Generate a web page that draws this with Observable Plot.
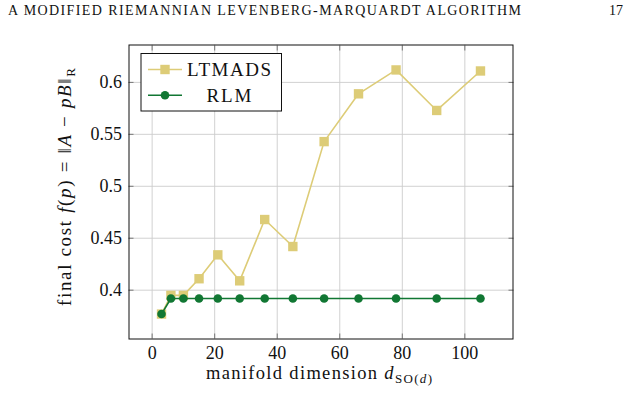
<!DOCTYPE html>
<html>
<head>
<meta charset="utf-8">
<script src="https://cdn.jsdelivr.net/npm/d3@7"></script>
<script src="https://cdn.jsdelivr.net/npm/@observablehq/plot@0.6"></script>
<style>
  body { margin: 0; background: #fff; width: 643px; height: 403px; overflow: hidden; font-family: "Times New Roman", "DejaVu Serif", serif; color: #111; }
  #head { position: relative; height: 25px; }
  #runhead { position: absolute; left: 8px; top: 3px; font-size: 14px; letter-spacing: 1.4px; white-space: nowrap; }
  #pageno { position: absolute; right: 20px; top: 3px; font-size: 14px; }
  #chart svg { display: block; }
  #chart svg text { font-family: "Times New Roman", "DejaVu Serif", serif; }
</style>
</head>
<body>
<div id="head"><span id="runhead">A MODIFIED RIEMANNIAN LEVENBERG-MARQUARDT ALGORITHM</span><span id="pageno">17</span></div>
<div id="chart"></div>
<script>
// manifold dimension of SO(d) for d = 3 .. 15
const dims = [3, 6, 10, 15, 21, 28, 36, 45, 55, 66, 78, 91, 105];
// final cost reached by each method
const ltmads = [0.377, 0.395, 0.395, 0.411, 0.434, 0.409, 0.468, 0.442, 0.543, 0.589, 0.612, 0.573, 0.611];
const rlm    = [0.377, 0.392, 0.392, 0.392, 0.392, 0.392, 0.392, 0.392, 0.392, 0.392, 0.392, 0.392, 0.392];
const methods = ["LTMADS", "RLM"];
const xTicks = [0, 20, 40, 60, 80, 100];
const yTicks = [0.4, 0.45, 0.5, 0.55, 0.6];

const colors = {LTMADS: "#ddcc77", RLM: "#117733"};
const ltRows = dims.map((d, i) => ({d, cost: ltmads[i], method: methods[0]}));
const rlRows = dims.map((d, i) => ({d, cost: rlm[i], method: methods[1]}));

const tickStyle = {tickFormat: () => "", label: null, stroke: "#777", tickSize: 5};

const plot = Plot.plot({
  width: 643,
  height: 378,
  marginTop: 19.5,
  marginBottom: 64.5,
  marginLeft: 128.5,
  marginRight: 130.5,
  x: {domain: [-7.4, 115.4]},
  y: {domain: [0.353, 0.636]},
  style: {fontFamily: '"Times New Roman", serif', fontSize: "18px", color: "#111", background: "white", overflow: "visible"},
  marks: [
    Plot.gridX(xTicks, {stroke: "#cccccc", strokeOpacity: 1, strokeWidth: 0.9}),
    Plot.gridY(yTicks, {stroke: "#cccccc", strokeOpacity: 1, strokeWidth: 0.9}),
    // tick labels
    Plot.axisX(xTicks, {tickSize: 0, tickPadding: 7, label: null}),
    Plot.axisY(yTicks, {tickSize: 0, tickPadding: 7, label: null, tickFormat: d => String(d)}),
    // inward tick marks on all four sides
    Plot.axisX(xTicks, {...tickStyle, anchor: "bottom", dy: -5}),
    Plot.axisX(xTicks, {...tickStyle, anchor: "top", dy: 5}),
    Plot.axisY(yTicks, {...tickStyle, anchor: "left", dx: 5}),
    Plot.axisY(yTicks, {...tickStyle, anchor: "right", dx: -5}),
    Plot.frame({stroke: "#111", strokeWidth: 1}),
    Plot.line(ltRows, {x: "d", y: "cost", stroke: colors.LTMADS, strokeWidth: 1.6}),
    Plot.dot(ltRows, {x: "d", y: "cost", symbol: "square", r: 5.3, fill: colors.LTMADS, stroke: "none"}),
    Plot.line(rlRows, {x: "d", y: "cost", stroke: colors.RLM, strokeWidth: 1.6}),
    Plot.dot(rlRows, {x: "d", y: "cost", symbol: "circle", r: 4.3, fill: colors.RLM, stroke: "none"})
  ]
});
document.getElementById("chart").appendChild(plot);

const svg = d3.select(plot);

// y-axis title: final cost f(p) = ‖A − pB‖_R
const yl = svg.append("text")
  .attr("transform", "translate(71,162) rotate(-90)")
  .attr("text-anchor", "middle")
  .attr("font-size", 19)
  .attr("textLength", 238)
  .attr("lengthAdjust", "spacing")
  .attr("fill", "#111");
[["final cost ", "normal"], ["f", "italic"], ["(", "normal"], ["p", "italic"], [") = \u2016", "normal"],
 ["A", "italic"], [" \u2212 ", "normal"], ["pB", "italic"], ["\u2016", "normal"]]
  .forEach(([t, s]) => yl.append("tspan").attr("font-style", s).text(t));
yl.append("tspan").attr("font-size", 13).attr("dy", 4).text("R");

// x-axis title: manifold dimension d_SO(d)
const xl = svg.append("text")
  .attr("x", 319).attr("y", 354)
  .attr("text-anchor", "middle")
  .attr("font-size", 18.5)
  .attr("textLength", 226)
  .attr("lengthAdjust", "spacing")
  .attr("fill", "#111");
xl.append("tspan").text("manifold dimension ");
xl.append("tspan").attr("font-style", "italic").text("d");
xl.append("tspan").attr("font-size", 13).attr("dy", 4).text("SO(");
xl.append("tspan").attr("font-size", 13).attr("font-style", "italic").text("d");
xl.append("tspan").attr("font-size", 13).text(")");

// legend
const lg = svg.append("g");
lg.append("rect").attr("x", 141).attr("y", 28.5).attr("width", 140.5).attr("height", 57.5)
  .attr("fill", "white").attr("stroke", "#111").attr("stroke-width", 1);
const labelWidths = {LTMADS: 84, RLM: 45};
methods.forEach((m, i) => {
  const cy = 44.5 + i * 25.7;
  lg.append("line").attr("x1", 148).attr("x2", 182).attr("y1", cy).attr("y2", cy)
    .attr("stroke", colors[m]).attr("stroke-width", 1.6);
  if (m === "LTMADS") {
    lg.append("rect").attr("x", 165 - 4.7).attr("y", cy - 4.7).attr("width", 9.4).attr("height", 9.4).attr("fill", colors[m]);
  } else {
    lg.append("circle").attr("cx", 165).attr("cy", cy).attr("r", 4.3).attr("fill", colors[m]);
  }
  lg.append("text").attr("x", 229).attr("y", cy + 6.5).attr("text-anchor", "middle")
    .attr("font-size", 19).attr("textLength", labelWidths[m]).attr("lengthAdjust", "spacing")
    .attr("fill", "#111").text(m);
});
</script>
</body>
</html>
